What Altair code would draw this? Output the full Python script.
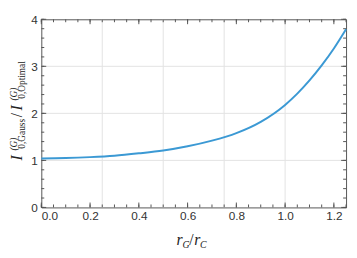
import altair as alt
import pandas as pd

# ---- data ----
ratio_x = [0, 0.1, 0.2, 0.3, 0.4, 0.5, 0.6, 0.7, 0.8, 0.9, 1.0, 1.05, 1.1, 1.15, 1.2, 1.25]
ratio_y = [1.04, 1.05, 1.07, 1.10, 1.15, 1.21, 1.30, 1.42, 1.58, 1.82, 2.18, 2.42, 2.70, 3.02, 3.38, 3.79]

x_labels = [0.0, 0.2, 0.4, 0.6, 0.8, 1.0, 1.2]
y_labels = [0, 1, 2, 3, 4]
x_grid = [0.25, 0.5, 0.75, 1.0]
y_grid = [1, 2, 3]
x_minor = [round(i * 0.05, 2) for i in range(26)]
y_minor = [round(i * 0.2, 1) for i in range(21)]

W, H = 311, 192
xs = alt.Scale(domain=[0, 1.25], nice=False, zero=False)
ys = alt.Scale(domain=[0, 4], nice=False, zero=False)

FRAME = "#555555"
GRID = "#e2e2e2"
LINE = "#3b99d4"
TXT = "#333333"
SERIF = "'Liberation Serif', 'Times New Roman', Times, serif"
SANS = "'Liberation Sans', Arial, Helvetica, sans-serif"

df = pd.DataFrame({"x": ratio_x, "y": ratio_y})

line = alt.Chart(df).mark_line(color=LINE, strokeWidth=2, interpolate="monotone").encode(
    x=alt.X("x:Q", scale=xs, axis=alt.Axis(values=x_labels, format=".1f", ticks=False, domain=False,
                                          grid=False, labelPadding=3, title=None,
                                          labelFont=SANS, labelFontSize=12, labelColor=TXT)),
    y=alt.Y("y:Q", scale=ys, axis=alt.Axis(values=y_labels, format="d", ticks=False, domain=False,
                                          grid=False, labelPadding=4, title=None,
                                          labelFont=SANS, labelFontSize=12, labelColor=TXT)),
)

gx = alt.Chart(pd.DataFrame({"v": x_grid})).mark_rule(color=GRID, strokeWidth=1).encode(
    x=alt.X("v:Q", scale=xs))
gy = alt.Chart(pd.DataFrame({"v": y_grid})).mark_rule(color=GRID, strokeWidth=1).encode(
    y=alt.Y("v:Q", scale=ys))


def xticks(vals, length):
    d = pd.DataFrame({"v": vals})
    bot = alt.Chart(d).mark_rule(color=FRAME, strokeWidth=1).encode(
        x=alt.X("v:Q", scale=xs), y=alt.value(H), y2=alt.value(H - length))
    top = alt.Chart(d).mark_rule(color=FRAME, strokeWidth=1).encode(
        x=alt.X("v:Q", scale=xs), y=alt.value(0), y2=alt.value(length))
    return [bot, top]


def yticks(vals, length):
    d = pd.DataFrame({"v": vals})
    left = alt.Chart(d).mark_rule(color=FRAME, strokeWidth=1).encode(
        y=alt.Y("v:Q", scale=ys), x=alt.value(0), x2=alt.value(length))
    right = alt.Chart(d).mark_rule(color=FRAME, strokeWidth=1).encode(
        y=alt.Y("v:Q", scale=ys), x=alt.value(W), x2=alt.value(W - length))
    return [left, right]


ticks = xticks(x_minor, 3) + xticks(x_labels, 5) + yticks(y_minor, 3) + yticks(y_labels, 5)


def txt(s, x, y, size, italic=True, angle=0):
    kw = dict(text=s, font=SERIF, fontSize=size, color="#222222", align="left", baseline="alphabetic")
    if italic:
        kw["fontStyle"] = "italic"
    if angle:
        kw["angle"] = angle
    return alt.Chart(pd.DataFrame({"a": [0]})).mark_text(**kw).encode(x=alt.value(x), y=alt.value(y))


# x title: r_G / r_C
xtitle = [
    txt("r", 138, 230, 16),
    txt("G", 144, 233, 10),
    txt("/", 151, 230, 16, italic=False),
    txt("r", 156, 230, 16),
    txt("C", 162, 233, 10),
]

# y title: I^(G)_{0,Gauss} / I^(G)_{0,Optimal}, rotated
ytitle = [
    txt("I", -20, 144, 16, angle=270),
    txt("(G)", -25, 134, 9.5, angle=270),
    txt("0,Gauss", -17, 132, 9.5, italic=False, angle=270),
    txt("/", -20, 100, 16, italic=False, angle=270),
    txt("I", -20, 93, 16, angle=270),
    txt("(G)", -25, 83, 9.5, angle=270),
    txt("0,Optimal", -17, 81, 9.5, italic=False, angle=270),
]

chart = alt.layer(gx, gy, *ticks, line, *xtitle, *ytitle).properties(
    width=W, height=H,
    autosize=alt.AutoSizeParams(type="none"),
    padding={"left": 34, "top": 9, "right": 3, "bottom": 45},
).configure_view(stroke=FRAME, strokeWidth=1)

chart.save("out.html", embed_options={"renderer": "svg", "actions": False})
